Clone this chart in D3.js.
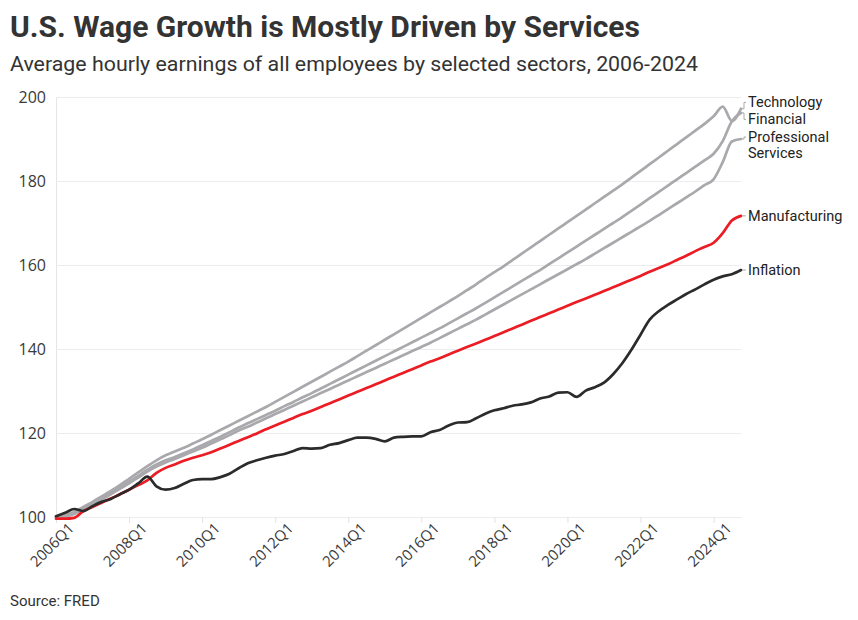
<!DOCTYPE html>
<html>
<head>
<meta charset="utf-8">
<script src="https://cdn.jsdelivr.net/npm/d3@7"></script>
<style>
  body { margin: 0; background: #fff; }
  svg { display: block; }
</style>
</head>
<body>
<div id="chart"></div>
<script>
//-------- Data (index, 2006Q1 = 100) --------

var startYear = 2006;
var yTicks = [100, 120, 140, 160, 180, 200];
var xTickEvery = 8; // one label each 2 years

var technology = [
  100.0, 100.4, 101.2, 102.4, 103.6, 104.9, 106.2, 107.6, 109.1, 110.6,
  112.1, 113.5, 114.7, 115.6, 116.5, 117.5, 118.5, 119.6, 120.7, 121.8,
  122.9, 124.0, 125.1, 126.2, 127.4, 128.6, 129.8, 131.0, 132.2, 133.4,
  134.6, 135.8, 137.0, 138.3, 139.6, 140.9, 142.2, 143.5, 144.8, 146.1,
  147.4, 148.7, 150.0, 151.3, 152.6, 154.0, 155.4, 156.9, 158.3, 159.7,
  161.2, 162.7, 164.2, 165.7, 167.2, 168.7, 170.2, 171.7, 173.2, 174.7,
  176.2, 177.7, 179.2, 180.8, 182.4, 184.0, 185.6, 187.2, 188.8, 190.4,
  192.0, 193.6, 195.4, 197.7, 194.3, 197.2
];

var financial = [
  100.0, 100.2, 100.9, 102.0, 103.2, 104.4, 105.7, 107.0, 108.4, 109.8,
  111.2, 112.5, 113.5, 114.3, 115.2, 116.1, 117.1, 118.1, 119.1, 120.2,
  121.3, 122.3, 123.3, 124.3, 125.3, 126.4, 127.4, 128.5, 129.5, 130.6,
  131.7, 132.8, 133.9, 135.0, 136.1, 137.2, 138.3, 139.4, 140.5, 141.6,
  142.7, 143.8, 144.9, 146.1, 147.3, 148.5, 149.7, 151.0, 152.3, 153.6,
  154.9, 156.2, 157.5, 158.8, 160.2, 161.6, 163.0, 164.4, 165.8, 167.2,
  168.6, 170.0, 171.4, 172.9, 174.4, 175.9, 177.4, 178.9, 180.4, 181.9,
  183.4, 184.9, 186.5, 189.5, 194.2, 196.2
];

var professional = [
  100.0, 100.1, 100.7, 101.8, 103.0, 104.2, 105.4, 106.7, 108.0, 109.4,
  110.8, 112.0, 113.0, 113.8, 114.7, 115.6, 116.5, 117.5, 118.5, 119.5,
  120.6, 121.5, 122.5, 123.5, 124.5, 125.5, 126.5, 127.5, 128.5, 129.5,
  130.5, 131.5, 132.5, 133.5, 134.5, 135.5, 136.5, 137.5, 138.5, 139.5,
  140.5, 141.5, 142.6, 143.7, 144.8, 145.9, 147.0, 148.2, 149.4, 150.6,
  151.8, 153.0, 154.2, 155.4, 156.6, 157.8, 159.0, 160.2, 161.4, 162.7,
  164.0, 165.3, 166.6, 167.9, 169.2, 170.5, 171.9, 173.3, 174.7, 176.1,
  177.5, 179.0, 180.4, 184.5, 189.4, 190.0
];

var manufacturing = [
  99.6, 99.6, 99.8, 101.4, 102.4, 103.4, 104.4, 105.4, 106.5, 107.6,
  108.7, 110.5, 111.7, 112.5, 113.4, 114.1, 114.7, 115.4, 116.3, 117.2,
  118.1, 119.0, 119.9, 120.9, 121.8, 122.7, 123.6, 124.5, 125.3, 126.2,
  127.1, 128.0, 128.9, 129.8, 130.7, 131.6, 132.5, 133.4, 134.3, 135.2,
  136.1, 137.0, 137.8, 138.7, 139.6, 140.5, 141.3, 142.2, 143.1, 144.0,
  144.9, 145.8, 146.7, 147.6, 148.5, 149.4, 150.3, 151.2, 152.0, 152.9,
  153.8, 154.7, 155.6, 156.5, 157.4, 158.4, 159.3, 160.2, 161.2, 162.2,
  163.3, 164.3, 165.3, 167.6, 170.6, 171.7
];

var inflation = [
  100.2, 101.0, 101.9, 101.4, 102.6, 103.6, 104.3, 105.4, 106.5, 108.0,
  109.6, 107.3, 106.5, 106.9, 107.9, 108.8, 109.0, 109.0, 109.5, 110.3,
  111.6, 112.8, 113.5, 114.1, 114.6, 115.0, 115.7, 116.4, 116.3, 116.4,
  117.2, 117.6, 118.3, 118.9, 118.9, 118.6, 118.0, 118.9, 119.1, 119.2,
  119.2, 120.2, 120.7, 121.8, 122.5, 122.6, 123.5, 124.6, 125.4, 125.9,
  126.5, 126.8, 127.3, 128.2, 128.7, 129.6, 129.7, 128.6, 130.1, 130.9,
  132.0, 134.0, 136.6, 139.8, 143.4, 147.0, 149.0, 150.5, 151.8, 153.1,
  154.2, 155.4, 156.5, 157.3, 157.8, 158.8
];

var series = [
  { name: ['Technology'], values: technology, color: '#a9a9ad' },
  { name: ['Financial'], values: financial, color: '#a9a9ad' },
  { name: ['Professional', 'Services'], values: professional, color: '#a9a9ad' },
  { name: ['Manufacturing'], values: manufacturing, color: '#ec1c24' },
  { name: ['Inflation'], values: inflation, color: '#2b2b2b' }
];

//-------- Canvas --------
var W = 858, H = 620;
var margin = { top: 97, right: 117, bottom: 103, left: 56 };

var svg = d3.select('#chart').append('svg').attr('width', W).attr('height', H);

var nQ = technology.length;
var x = d3.scaleLinear().domain([0, nQ - 1]).range([margin.left, W - margin.right]);
var y = d3.scaleLinear().domain([100, 200]).range([H - margin.bottom, margin.top]);

var qLabel = function (i) { return (startYear + Math.floor(i / 4)) + 'Q' + (i % 4 + 1); };

// stretch/squeeze a text to the width it has in the original (fonts differ)
var fitText = function (sel, w) {
  sel.attr('textLength', w).attr('lengthAdjust', 'spacingAndGlyphs');
};

//-------- Titles --------
var title = svg.append('text').attr('x', 10).attr('y', 37)
  .attr('font-family', 'Roboto, sans-serif').attr('font-weight', 700).attr('font-size', 29.5)
  .attr('fill', '#333').text('U.S. Wage Growth is Mostly Driven by Services');
fitText(title, 630);

var sub = svg.append('text').attr('x', 10).attr('y', 71)
  .attr('font-family', 'Roboto, sans-serif').attr('font-size', 21)
  .attr('fill', '#333').text('Average hourly earnings of all employees by selected sectors, 2006-2024');
fitText(sub, 688);

svg.append('text').attr('x', 10).attr('y', 606)
  .attr('font-family', 'Roboto, sans-serif').attr('font-size', 15)
  .attr('fill', '#333').text('Source: FRED');

//-------- Grid + axes --------
var yAxis = svg.append('g').attr('transform', 'translate(' + margin.left + ',0)')
  .call(d3.axisLeft(y).tickValues(yTicks).tickSize(-(W - margin.left - margin.right)).tickPadding(10));
yAxis.select('.domain').attr('stroke', '#e6e6e6');
yAxis.selectAll('.tick line').attr('stroke', '#ececec');
yAxis.selectAll('.tick text').attr('font-family', '"Open Sans", sans-serif').attr('font-size', 16).attr('fill', '#3a3a3a');

var xTicks = d3.range(0, nQ, xTickEvery);
var xAxis = svg.append('g').attr('transform', 'translate(0,' + (H - margin.bottom) + ')')
  .call(d3.axisBottom(x).tickValues(xTicks).tickFormat(qLabel).tickSize(6).tickSizeOuter(0));
xAxis.select('.domain').attr('stroke', '#ececec');
xAxis.selectAll('.tick line').attr('stroke', '#e2e2e2');
xAxis.selectAll('.tick text')
  .attr('font-family', '"Open Sans", sans-serif').attr('font-size', 15).attr('fill', '#3a3a3a')
  .attr('text-anchor', 'end').attr('dx', '0.3em').attr('dy', '0.85em')
  .attr('transform', 'rotate(-45)');

//-------- Lines --------
var line = d3.line()
  .x(function (d, i) { return x(i); })
  .y(function (d) { return y(d); })
  .curve(d3.curveMonotoneX);

svg.append('g').selectAll('path.series').data(series).enter().append('path')
  .attr('class', 'series')
  .attr('d', function (d) { return line(d.values); })
  .attr('fill', 'none')
  .attr('stroke', function (d) { return d.color; })
  .attr('stroke-width', 2.7)
  .attr('stroke-linejoin', 'round')
  .attr('stroke-linecap', 'round');

//-------- End labels (dodged) --------
var lineH = 16;
var ends = series.map(function (s) {
  var v = s.values[s.values.length - 1];
  return { s: s, yEnd: y(v), yLab: y(v) };
}).sort(function (a, b) { return a.yEnd - b.yEnd; });

// push neighbouring labels apart
var gap = 17;
for (var k = 1; k < ends.length; k++) {
  var prevH = (ends[k - 1].s.name.length - 1) * lineH;
  var room = ends[k].yLab - (ends[k - 1].yLab + prevH);
  if (room < gap) {
    ends[k].yLab += (gap - room) / 2;
    ends[k - 1].yLab -= (gap - room) / 2;
  }
}

var xEnd = x(nQ - 1);
var labG = svg.append('g');
ends.forEach(function (e) {
  // two-line labels sit a little higher so the block centres on the line end
  var y0 = e.yLab - (e.s.name.length - 1) * 2;
  labG.append('path')
    .attr('d', 'M' + (xEnd + 1) + ',' + e.yEnd + 'H' + (xEnd + 3) + 'V' + y0 + 'H' + (xEnd + 5))
    .attr('fill', 'none').attr('stroke', '#a9a9ad').attr('stroke-width', 1);
  e.s.name.forEach(function (n, j) {
    labG.append('text').attr('x', xEnd + 7).attr('y', y0 + j * lineH).attr('dy', '0.35em')
      .attr('font-family', 'Roboto, sans-serif').attr('font-size', 14.5).attr('fill', '#222')
      .text(n);
  });
});
</script>
</body>
</html>
